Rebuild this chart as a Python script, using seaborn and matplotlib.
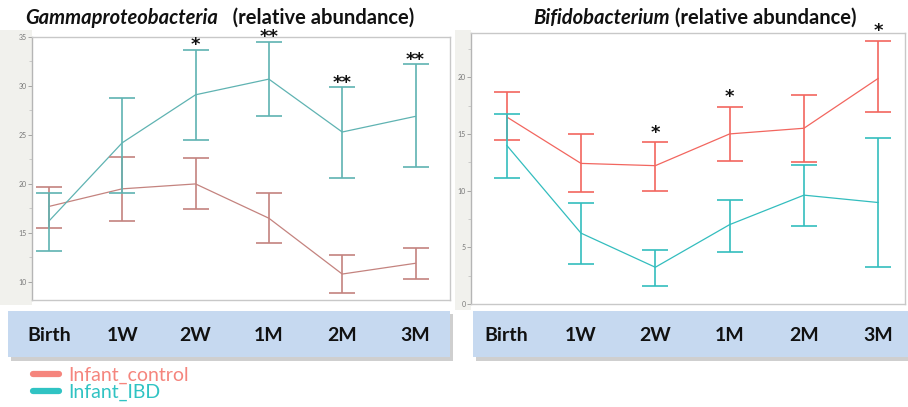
import numpy as np
import pandas as pd
import seaborn as sns
import matplotlib
matplotlib.use("Agg")
import matplotlib.pyplot as plt
from matplotlib.patches import Rectangle
from matplotlib.lines import Line2D
from matplotlib.ticker import MultipleLocator
import matplotlib.transforms as mtrans

# ---------------- data ----------------
times = ["Birth", "1W", "2W", "1M", "2M", "3M"]

gamma_ctrl_mean = [17.7, 19.5, 20.0, 16.5, 10.8, 11.9]
gamma_ctrl_lo = [15.5, 16.2, 17.4, 14.0, 8.9, 10.3]
gamma_ctrl_hi = [19.7, 22.8, 22.6, 19.05, 12.7, 13.5]
gamma_ibd_mean = [16.2, 24.2, 29.1, 30.7, 25.3, 26.9]
gamma_ibd_lo = [13.2, 19.1, 24.5, 26.9, 20.6, 21.7]
gamma_ibd_hi = [19.1, 28.8, 33.7, 34.5, 29.9, 32.2]
gamma_sig = ["", "", "*", "**", "**", "**"]

bifido_ctrl_mean = [16.5, 12.4, 12.2, 15.0, 15.5, 19.9]
bifido_ctrl_lo = [14.5, 9.9, 9.95, 12.6, 12.5, 16.9]
bifido_ctrl_hi = [18.7, 15.0, 14.25, 17.4, 18.4, 23.2]
bifido_ibd_mean = [14.0, 6.25, 3.24, 7.0, 9.6, 8.95]
bifido_ibd_lo = [11.1, 3.5, 1.6, 4.6, 6.9, 3.27]
bifido_ibd_hi = [16.8, 8.95, 4.8, 9.2, 12.3, 14.6]
bifido_sig = ["", "", "*", "*", "", "*"]

groups = ["Infant_control", "Infant_IBD"]

# ---------------- style ----------------
sns.set_theme(style="white")
plt.rcParams["font.family"] = ["Lato", "DejaVu Sans"]

W, H = 908, 407
fig = plt.figure(figsize=(W / 100, H / 100), dpi=100)
fig.patch.set_facecolor("white")


def px_axes(x0, y0, x1, y1, **kw):
    return fig.add_axes([x0 / W, 1 - y1 / H, (x1 - x0) / W, (y1 - y0) / H], **kw)


def px_rect(x0, y0, x1, y1, **kw):
    r = Rectangle((x0 / W, 1 - y1 / H), (x1 - x0) / W, (y1 - y0) / H,
                  transform=fig.transFigure, **kw)
    fig.patches.append(r)
    return r


# light label strips left of each plot
px_rect(0, 30, 32, 305, facecolor="#f1f1ed", edgecolor="none", zorder=-5)
px_rect(455, 30, 471, 310, facecolor="#f1f1ed", edgecolor="none", zorder=-5)


def panel(ax, cm, clo, chi, im, ilo, ihi, sig, colors, ylim, major, star_off, xlim):
    pos = np.arange(len(times))
    df = pd.concat([
        pd.DataFrame({"pos": pos, "time": times, "group": groups[0],
                      "mean": cm, "lo": clo, "hi": chi}),
        pd.DataFrame({"pos": pos, "time": times, "group": groups[1],
                      "mean": im, "lo": ilo, "hi": ihi}),
    ])
    sns.lineplot(data=df, x="pos", y="mean", hue="group", palette=colors,
                 estimator=None, sort=False, legend=False, lw=0.9, ax=ax)
    for g in groups:
        d = df[df["group"] == g]
        ax.errorbar(d["pos"], d["mean"],
                    yerr=[d["mean"] - d["lo"], d["hi"] - d["mean"]],
                    fmt="none", ecolor=colors[g], elinewidth=1.2,
                    capsize=9.5, capthick=1.2)
    for i, s in enumerate(sig):
        if s:
            y = max(chi[i], ihi[i]) + star_off
            ax.text(pos[i], y, s, ha="center", va="center", fontsize=13,
                    fontweight="bold", color="#111111", clip_on=False,
                    family="DejaVu Sans")
    ax.set_xlim(*xlim)
    ax.set_ylim(*ylim)
    ax.set_xticks([])
    ax.set_xlabel("")
    ax.set_ylabel("")
    ax.yaxis.set_major_locator(MultipleLocator(major))
    ax.yaxis.set_minor_locator(MultipleLocator(major / 2))
    ax.tick_params(axis="y", which="major", left=True, length=3, width=0.6,
                   color="#999999", labelsize=5, labelcolor="#777777", pad=1)
    ax.tick_params(axis="y", which="minor", left=True, length=2, width=0.5,
                   color="#bbbbbb")
    for sp in ax.spines.values():
        sp.set_color("#c8c8c8")
        sp.set_linewidth(1.0)
    ax.spines["left"].set_color("#b5b5b5")
    ax.set_facecolor("white")


# left panel
ax1 = px_axes(32, 37, 450, 300)
panel(ax1, gamma_ctrl_mean, gamma_ctrl_lo, gamma_ctrl_hi,
      gamma_ibd_mean, gamma_ibd_lo, gamma_ibd_hi, gamma_sig,
      {"Infant_control": "#c4837f", "Infant_IBD": "#5fb3b2"},
      (8.15, 35.0), 5, 0.45, (-0.23, 5.47))

# right panel
ax2 = px_axes(471, 33, 905, 304)
panel(ax2, bifido_ctrl_mean, bifido_ctrl_lo, bifido_ctrl_hi,
      bifido_ibd_mean, bifido_ibd_lo, bifido_ibd_hi, bifido_sig,
      {"Infant_control": "#f2665f", "Infant_IBD": "#33bdbe"},
      (0, 23.9), 5, 0.85, (-0.48, 5.36))

# ---------------- time bands ----------------
def band(ax, x0, x1):
    px_rect(x0 + 3, 314, x1 + 3, 361, facecolor="#a0a0a0", alpha=0.5,
            edgecolor="none", zorder=-5)
    b = px_axes(x0, 311, x1, 357)
    b.set_facecolor("#c6d9f0")
    b.set_xticks([])
    b.set_yticks([])
    for sp in b.spines.values():
        sp.set_visible(False)
    tr = mtrans.blended_transform_factory(ax.transData, b.transAxes)
    for i, t in enumerate(times):
        b.text(i, 0.47, t, transform=tr, ha="center", va="center",
               fontsize=14, fontweight="bold", color="#111111")


band(ax1, 8, 450)
band(ax2, 473, 908)

# ---------------- titles ----------------
def title(x, parts, y=18):
    renderer = fig.canvas.get_renderer()
    cur = x
    for txt, style in parts:
        t = fig.text(cur / W, 1 - y / H, txt, ha="left", va="center",
                     fontsize=14.5, fontweight="bold", fontstyle=style,
                     color="#111111")
        bb = t.get_window_extent(renderer)
        cur = bb.x1


title(25, [("Gammaproteobacteria", "italic"), ("   (relative abundance)", "normal")])
title(533, [("Bifidobacterium", "italic"), (" (relative abundance)", "normal")])

# ---------------- legend ----------------
handles = [Line2D([], [], color="#f5857d", lw=4.5),
           Line2D([], [], color="#30c3c3", lw=4.5)]
fig.legend(handles, groups, loc="upper left",
           bbox_to_anchor=(33 / W, 1 - 367 / H), frameon=False,
           handlelength=1.35, handletextpad=0.45, labelspacing=-0.02,
           fontsize=14, labelcolor="linecolor", borderaxespad=0, borderpad=0)

fig.savefig("out.png", dpi=100)
